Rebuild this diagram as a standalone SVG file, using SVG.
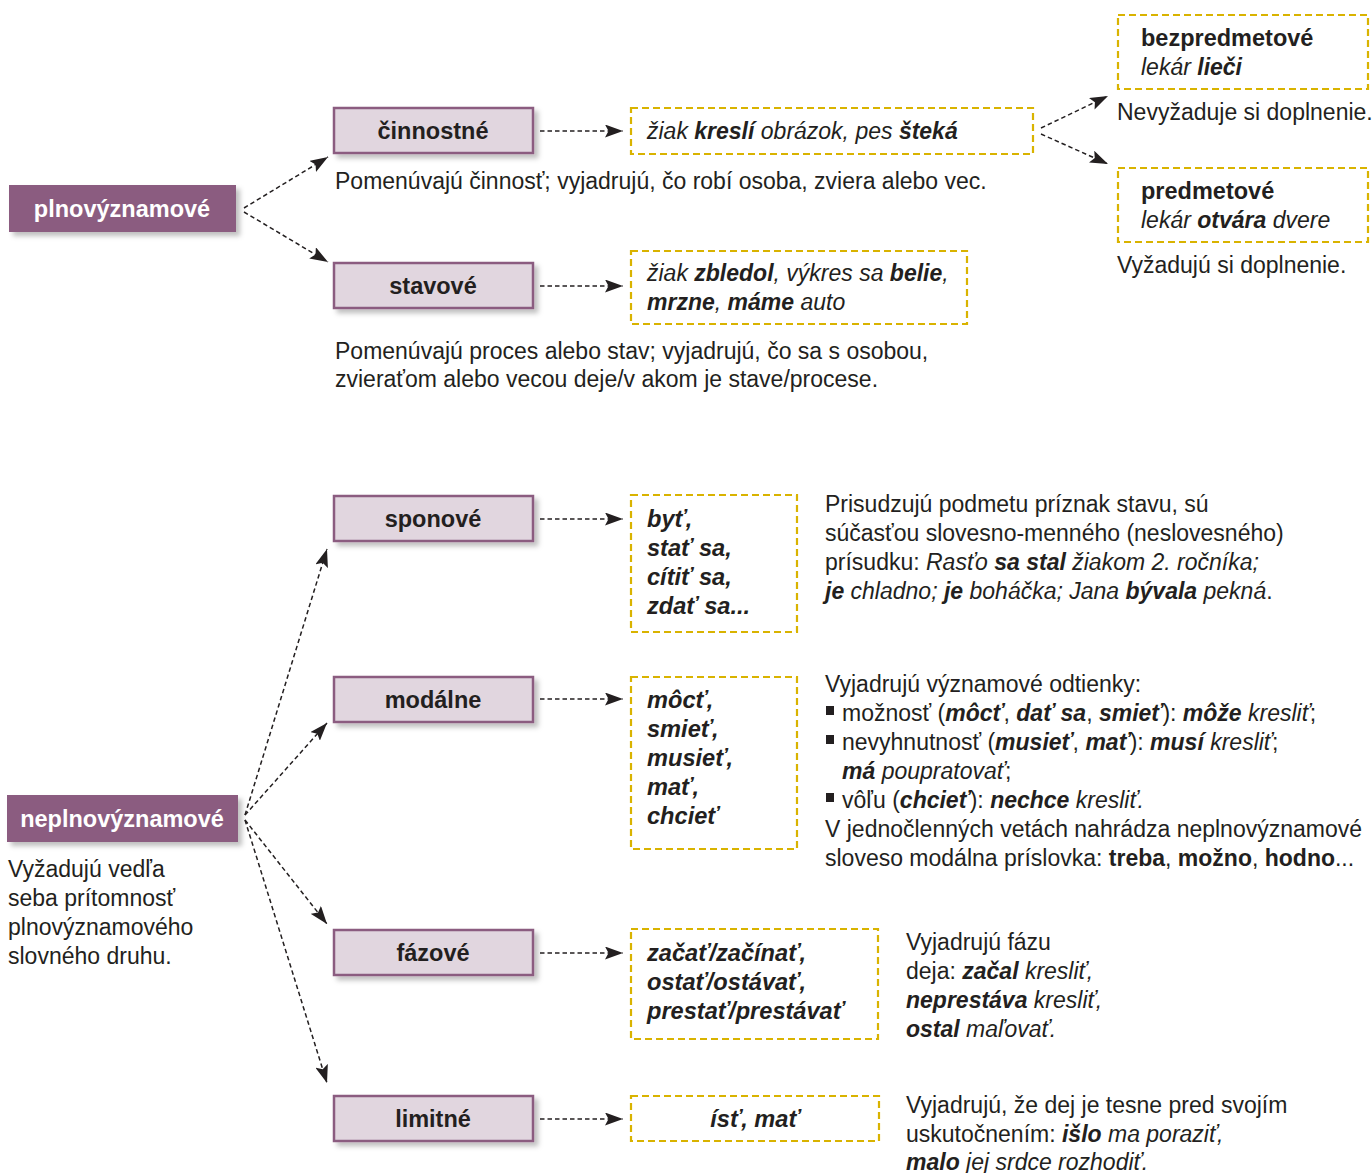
<svg xmlns="http://www.w3.org/2000/svg" width="1372" height="1173" viewBox="0 0 1372 1173">
<defs>
<style>
text{font-family:"Liberation Sans",Arial,sans-serif;fill:#231f20}
.lbl{font-size:23.5px;font-weight:bold;text-anchor:middle}
.lblw{font-size:23.5px;font-weight:bold;text-anchor:middle;fill:#ffffff}
.d{font-size:23px}
.db{font-size:23.5px;font-weight:bold}
.dl{font-size:23px}
.ex{font-size:23px;font-style:italic}
.exb{font-size:23.6px;font-style:italic;font-weight:bold}
.b{font-weight:bold}
.i{font-style:italic}
.bi{font-weight:bold;font-style:italic}
.main{fill:#8b5c80}
.sub{fill:#e1d6df;stroke:#8b5c80;stroke-width:2.5}
.ybox{fill:none;stroke:#d9b300;stroke-width:2.2;stroke-dasharray:7 4}
.con{fill:none;stroke:#231f20;stroke-width:1.5;stroke-dasharray:4.5 3;marker-end:url(#ah)}
.bul{fill:#231f20}
</style>
<marker id="ah" markerUnits="userSpaceOnUse" viewBox="0 0 18 13" refX="18" refY="6.5" markerWidth="18" markerHeight="13" orient="auto">
<path d="M0,0 L18,6.5 L0,13 L3.5,6.5 z" fill="#231f20"/>
</marker>
<filter id="sh" x="-10%" y="-20%" width="130%" height="160%">
<feDropShadow dx="4" dy="4" stdDeviation="2.5" flood-color="#000" flood-opacity="0.25"/>
</filter>
</defs>
<rect width="1372" height="1173" fill="#ffffff"/>

<g id="connectors">
<line class="con" x1="244" y1="208" x2="328" y2="157"/>
<line class="con" x1="244" y1="212" x2="328" y2="262"/>
<line class="con" x1="540" y1="131" x2="623" y2="131"/>
<line class="con" x1="540" y1="286" x2="623" y2="286"/>
<line class="con" x1="1041" y1="128" x2="1108" y2="96"/>
<line class="con" x1="1041" y1="134" x2="1108" y2="164"/>
<line class="con" x1="245" y1="815" x2="327" y2="549"/>
<line class="con" x1="245" y1="815" x2="327" y2="723"/>
<line class="con" x1="245" y1="820" x2="327" y2="924"/>
<line class="con" x1="245" y1="820" x2="327" y2="1083"/>
<line class="con" x1="540" y1="519" x2="623" y2="519"/>
<line class="con" x1="540" y1="699" x2="623" y2="699"/>
<line class="con" x1="540" y1="953" x2="623" y2="953"/>
<line class="con" x1="540" y1="1119" x2="623" y2="1119"/>
</g>

<g id="plnovyznamove">
<rect class="main" x="9" y="185" width="227" height="47" filter="url(#sh)"/>
<text class="lblw" x="122" y="217">plnovýznamové</text>
</g>

<g id="cinnostne">
<rect class="sub" x="334" y="108" width="199" height="45" filter="url(#sh)"/>
<text class="lbl" x="433" y="139">činnostné</text>
<text class="d" x="335" y="189">Pomenúvajú činnosť; vyjadrujú, čo robí osoba, zviera alebo vec.</text>
</g>

<g id="cinnostne-priklad">
<rect class="ybox" x="631" y="108" width="402" height="46"/>
<text class="ex" x="647" y="139">žiak <tspan class="b">kreslí</tspan> obrázok, pes <tspan class="b">šteká</tspan></text>
</g>

<g id="bezpredmetove">
<rect class="ybox" x="1118" y="15" width="250" height="74"/>
<text class="db" x="1141" y="46">bezpredmetové</text>
<text class="ex" x="1141" y="75">lekár <tspan class="b">lieči</tspan></text>
<text class="d" x="1117" y="120">Nevyžaduje si doplnenie.</text>
</g>

<g id="predmetove">
<rect class="ybox" x="1118" y="168" width="250" height="74"/>
<text class="db" x="1141" y="199">predmetové</text>
<text class="ex" x="1141" y="228">lekár <tspan class="b">otvára</tspan> dvere</text>
<text class="d" x="1117" y="273">Vyžadujú si doplnenie.</text>
</g>

<g id="stavove">
<rect class="sub" x="334" y="263" width="199" height="45" filter="url(#sh)"/>
<text class="lbl" x="433" y="294">stavové</text>
<text class="d" x="335" y="359">Pomenúvajú proces alebo stav; vyjadrujú, čo sa s osobou,</text>
<text class="d" x="335" y="387">zvieraťom alebo vecou deje/v akom je stave/procese.</text>
</g>

<g id="stavove-priklad">
<rect class="ybox" x="631" y="251" width="336" height="73"/>
<text class="ex" x="647" y="281">žiak <tspan class="b">zbledol</tspan>, výkres sa <tspan class="b">belie</tspan>,</text>
<text class="ex" x="647" y="310"><tspan class="b">mrzne</tspan>, <tspan class="b">máme</tspan> auto</text>
</g>

<g id="neplnovyznamove">
<rect class="main" x="7" y="795" width="231" height="47" filter="url(#sh)"/>
<text class="lblw" x="122" y="827">neplnovýznamové</text>
<text class="dl" x="8" y="877">Vyžadujú vedľa</text>
<text class="dl" x="8" y="906">seba prítomnosť</text>
<text class="dl" x="8" y="935">plnovýznamového</text>
<text class="dl" x="8" y="964">slovného druhu.</text>
</g>

<g id="sponove">
<rect class="sub" x="334" y="496" width="199" height="45" filter="url(#sh)"/>
<text class="lbl" x="433" y="527">sponové</text>
</g>
<g id="sponove-priklad">
<rect class="ybox" x="631" y="495" width="166" height="137"/>
<text class="exb" x="647" y="527">byť,</text>
<text class="exb" x="647" y="556">stať sa,</text>
<text class="exb" x="647" y="585">cítiť sa,</text>
<text class="exb" x="647" y="614">zdať sa...</text>
<text class="dl" x="825" y="512">Prisudzujú podmetu príznak stavu, sú</text>
<text class="dl" x="825" y="541">súčasťou slovesno-menného (neslovesného)</text>
<text class="dl" x="825" y="570">prísudku: <tspan class="i">Rasťo </tspan><tspan class="bi">sa stal</tspan><tspan class="i"> žiakom 2. ročníka;</tspan></text>
<text class="dl" x="825" y="599"><tspan class="bi">je</tspan><tspan class="i"> chladno; </tspan><tspan class="bi">je</tspan><tspan class="i"> boháčka; Jana </tspan><tspan class="bi">bývala</tspan><tspan class="i"> pekná</tspan>.</text>
</g>

<g id="modalne">
<rect class="sub" x="334" y="677" width="199" height="45" filter="url(#sh)"/>
<text class="lbl" x="433" y="708">modálne</text>
</g>
<g id="modalne-priklad">
<rect class="ybox" x="631" y="677" width="166" height="172"/>
<text class="exb" x="647" y="708">môcť,</text>
<text class="exb" x="647" y="737">smieť,</text>
<text class="exb" x="647" y="766">musieť,</text>
<text class="exb" x="647" y="795">mať,</text>
<text class="exb" x="647" y="824">chcieť</text>
<text class="dl" x="825" y="692">Vyjadrujú významové odtienky:</text>
<rect class="bul" x="826" y="706" width="8" height="9"/>
<text class="dl" x="842" y="721">možnosť (<tspan class="bi">môcť</tspan>, <tspan class="bi">dať sa</tspan>, <tspan class="bi">smieť</tspan>): <tspan class="bi">môže</tspan><tspan class="i"> kresliť</tspan>;</text>
<rect class="bul" x="826" y="735" width="8" height="9"/>
<text class="dl" x="842" y="750">nevyhnutnosť (<tspan class="bi">musieť</tspan>, <tspan class="bi">mať</tspan>): <tspan class="bi">musí</tspan><tspan class="i"> kresliť</tspan>;</text>
<text class="dl" x="842" y="779"><tspan class="bi">má</tspan><tspan class="i"> poupratovať</tspan>;</text>
<rect class="bul" x="826" y="793" width="8" height="9"/>
<text class="dl" x="842" y="808">vôľu (<tspan class="bi">chcieť</tspan>): <tspan class="bi">nechce</tspan><tspan class="i"> kresliť.</tspan></text>
<text class="dl" x="825" y="837">V jednočlenných vetách nahrádza neplnovýznamové</text>
<text class="dl" x="825" y="866">sloveso modálna príslovka: <tspan class="b">treba</tspan>, <tspan class="b">možno</tspan>, <tspan class="b">hodno</tspan>...</text>
</g>

<g id="fazove">
<rect class="sub" x="334" y="930" width="199" height="45" filter="url(#sh)"/>
<text class="lbl" x="433" y="961">fázové</text>
</g>
<g id="fazove-priklad">
<rect class="ybox" x="631" y="929" width="247" height="110"/>
<text class="exb" x="647" y="961">začať/začínať,</text>
<text class="exb" x="647" y="990">ostať/ostávať,</text>
<text class="exb" x="647" y="1019">prestať/prestávať</text>
<text class="dl" x="906" y="950">Vyjadrujú fázu</text>
<text class="dl" x="906" y="979">deja: <tspan class="bi">začal</tspan><tspan class="i"> kresliť,</tspan></text>
<text class="dl" x="906" y="1008"><tspan class="bi">neprestáva</tspan><tspan class="i"> kresliť,</tspan></text>
<text class="dl" x="906" y="1037"><tspan class="bi">ostal</tspan><tspan class="i"> maľovať.</tspan></text>
</g>

<g id="limitne">
<rect class="sub" x="334" y="1096" width="199" height="45" filter="url(#sh)"/>
<text class="lbl" x="433" y="1127">limitné</text>
</g>
<g id="limitne-priklad">
<rect class="ybox" x="631" y="1096" width="248" height="45"/>
<text class="exb" x="755" y="1127" text-anchor="middle">ísť, mať</text>
<text class="dl" x="906" y="1113">Vyjadrujú, že dej je tesne pred svojím</text>
<text class="dl" x="906" y="1142">uskutočnením: <tspan class="bi">išlo</tspan><tspan class="i"> ma poraziť,</tspan></text>
<text class="dl" x="906" y="1170"><tspan class="bi">malo</tspan><tspan class="i"> jej srdce rozhodiť.</tspan></text>
</g>
</svg>
